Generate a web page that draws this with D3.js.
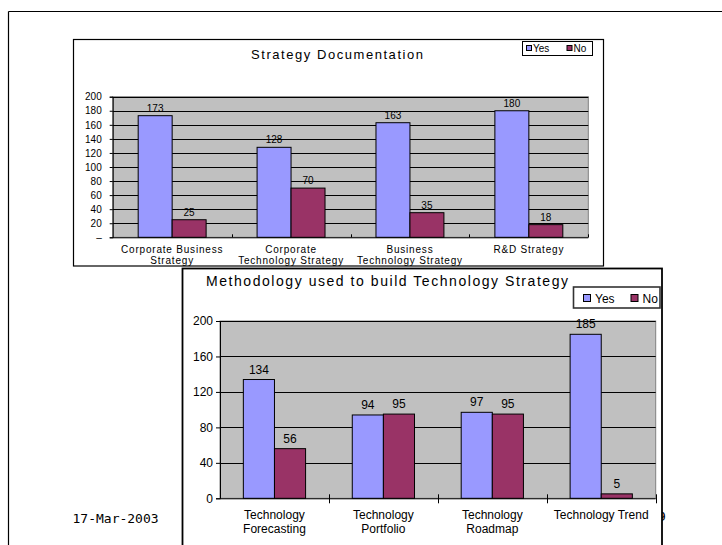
<!DOCTYPE html>
<html>
<head>
<meta charset="utf-8">
<script src="https://cdn.jsdelivr.net/npm/d3@7"></script>
<style>
  html, body { margin: 0; padding: 0; background: #fff; }
  svg { display: block; }
  text { font-family: "Liberation Sans", Arial, sans-serif; fill: #000; }
</style>
</head>
<body>
<svg id="slide" width="722" height="545"></svg>
<script>
// ---- data ----
const seriesNames = ["Yes", "No"];
const seriesColors = ["#9999FF", "#993366"];

const docCategories = ["Corporate Business\nStrategy", "Corporate\nTechnology Strategy", "Business\nTechnology Strategy", "R&D Strategy"];
const docYes = [173, 128, 163, 180];
const docNo = [25, 70, 35, 18];
const docTicks = [0, 20, 40, 60, 80, 100, 120, 140, 160, 180, 200];

const methCategories = ["Technology\nForecasting", "Technology\nPortfolio", "Technology\nRoadmap", "Technology Trend"];
const methYes = [134, 94, 97, 185];
const methNo = [56, 95, 95, 5];
const methTicks = [0, 40, 80, 120, 160, 200];

const footerDate = "17-Mar-2003";
const pageNumber = "9";

const svg = d3.select("#slide");

// slide frame
svg.append("line").attr("x1", 8.5).attr("y1", 11.5).attr("x2", 722).attr("y2", 11.5)
  .attr("stroke", "#000").attr("stroke-width", 1.2);
svg.append("line").attr("x1", 8.5).attr("y1", 11.5).attr("x2", 8.5).attr("y2", 545)
  .attr("stroke", "#000").attr("stroke-width", 1.2);

// footer
svg.append("text").attr("x", 72.5).attr("y", 522.5)
  .style("font-family", "'DejaVu Sans Mono', monospace").style("font-size", "13px")
  .text(footerDate);
svg.append("text").attr("x", 658).attr("y", 521)
  .style("font-family", "'DejaVu Sans Mono', monospace").style("font-size", "13px")
  .text(pageNumber);

function groupedBars(g, opt) {
  const rows = opt.categories.map((c, i) => ({ cat: c, values: [opt.yes[i], opt.no[i]] }));
  const x0 = d3.scaleBand().domain(opt.categories).range([opt.left, opt.right]).paddingInner(0).paddingOuter(0);
  const x1 = d3.scaleBand().domain(seriesNames).range([0, x0.bandwidth()]).paddingInner(0).paddingOuter(0.75);
  const y = d3.scaleLinear().domain([0, 200]).range([opt.bottom, opt.top]);

  // plot area
  g.append("rect").attr("x", opt.left).attr("y", opt.top)
    .attr("width", opt.right - opt.left).attr("height", opt.bottom - opt.top)
    .attr("fill", "#C0C0C0").attr("stroke", "#808080").attr("stroke-width", 1);

  // gridlines
  g.append("g").selectAll("line").data(opt.ticks.filter(t => t > 0)).join("line")
    .attr("x1", opt.left).attr("x2", opt.right)
    .attr("y1", d => Math.round(y(d)) + 0.5).attr("y2", d => Math.round(y(d)) + 0.5)
    .attr("stroke", "#000").attr("stroke-width", 1);

  // y axis
  const yAxis = d3.axisLeft(y).tickValues(opt.ticks).tickSize(opt.yTick).tickPadding(opt.yPad)
    .tickFormat(opt.yFormat);
  const ya = g.append("g").attr("transform", `translate(${opt.left},0)`).call(yAxis);
  ya.select(".domain").attr("stroke", "#000");
  ya.selectAll("line").attr("stroke", "#000");
  ya.selectAll("text").style("font-family", "'Liberation Sans', Arial, sans-serif")
    .style("font-size", opt.tickFont).attr("fill", "#000");

  // bars
  const grp = g.append("g").selectAll("g").data(rows).join("g")
    .attr("transform", d => `translate(${x0(d.cat)},0)`);
  grp.selectAll("rect").data(d => d.values.map((v, i) => ({ s: seriesNames[i], v, i }))).join("rect")
    .attr("x", d => x1(d.s)).attr("width", x1.bandwidth())
    .attr("y", d => y(d.v)).attr("height", d => y(0) - y(d.v))
    .attr("fill", d => seriesColors[d.i]).attr("stroke", "#000").attr("stroke-width", 1);
  grp.selectAll("text.val").data(d => d.values.map((v, i) => ({ s: seriesNames[i], v, i }))).join("text")
    .attr("class", "val")
    .attr("x", d => x1(d.s) + x1.bandwidth() / 2).attr("y", d => y(d.v) - opt.valGap)
    .attr("text-anchor", "middle").style("font-size", opt.valFont)
    .text(d => d.v);

  // x axis line and category separators
  g.append("line").attr("x1", opt.left).attr("x2", opt.right)
    .attr("y1", opt.bottom + 0.5).attr("y2", opt.bottom + 0.5).attr("stroke", "#000");
  const seps = opt.categories.map(c => x0(c) + x0.bandwidth());
  g.append("g").selectAll("line").data(seps).join("line")
    .attr("x1", d => Math.round(d) + 0.5).attr("x2", d => Math.round(d) + 0.5)
    .attr("y1", opt.bottom + opt.sepTop).attr("y2", opt.bottom + opt.sepBottom)
    .attr("stroke", "#000");

  // category labels
  const cl = g.append("g").selectAll("text").data(opt.categories).join("text")
    .attr("x", d => x0(d) + x0.bandwidth() / 2).attr("y", opt.catY)
    .attr("text-anchor", "middle").style("font-size", opt.catFont)
    .style("letter-spacing", opt.catSpacing);
  cl.selectAll("tspan").data(d => d.split("\n")).join("tspan")
    .attr("x", function () { return d3.select(this.parentNode).attr("x"); })
    .attr("dy", (d, i) => i === 0 ? 0 : opt.catLine)
    .text(d => d);
}

// ---- chart 1: Strategy Documentation ----
const c1 = svg.append("g");
c1.append("rect").attr("x", 73.5).attr("y", 39.5).attr("width", 530).attr("height", 226.5)
  .attr("fill", "#fff").attr("stroke", "#000").attr("stroke-width", 1.2);
c1.append("text").attr("x", 337).attr("y", 58.5).attr("text-anchor", "middle")
  .style("font-size", "13px").attr("textLength", 172).attr("lengthAdjust", "spacing")
  .text("Strategy Documentation");
// legend
const l1 = c1.append("g");
l1.append("rect").attr("x", 522.5).attr("y", 41.5).attr("width", 70).attr("height", 14)
  .attr("fill", "#fff").attr("stroke", "#000");
const l1x = [526, 566.5];
seriesNames.forEach((s, i) => {
  l1.append("rect").attr("x", l1x[i] + 0.5).attr("y", 45.5).attr("width", 5).attr("height", 5)
    .attr("fill", seriesColors[i]).attr("stroke", "#000");
  l1.append("text").attr("x", l1x[i] + 7).attr("y", 52).style("font-size", "10px").text(s);
});
groupedBars(c1, {
  categories: docCategories, yes: docYes, no: docNo, ticks: docTicks,
  left: 112.7, right: 588.3, top: 96.7, bottom: 237.3,
  yTick: 3, yPad: 8, yFormat: d => d === 0 ? "\u2013" : d, tickFont: "10px",
  valFont: "10px", valGap: 4, sepTop: -3, sepBottom: 0,
  catY: 252.5, catLine: 11, catFont: "10px", catSpacing: "0.8px"
});

// ---- chart 2: Methodology used to build Technology Strategy ----
const c2 = svg.append("g");
c2.append("rect").attr("x", 182.5).attr("y", 268.5).attr("width", 479.5).attr("height", 290)
  .attr("fill", "#fff").attr("stroke", "#000").attr("stroke-width", 1.8);
c2.append("text").attr("x", 206).attr("y", 286)
  .style("font-size", "14px").attr("textLength", 362).attr("lengthAdjust", "spacing")
  .text("Methodology used to build Technology Strategy");
const l2 = c2.append("g");
l2.append("rect").attr("x", 573.5).attr("y", 287).attr("width", 86.5).attr("height", 21)
  .attr("fill", "#fff").attr("stroke", "#333").attr("stroke-width", 1.6);
const l2x = [583, 630.5];
seriesNames.forEach((s, i) => {
  l2.append("rect").attr("x", l2x[i] + 0.5).attr("y", 294.5).attr("width", 7).attr("height", 7)
    .attr("fill", seriesColors[i]).attr("stroke", "#000");
  l2.append("text").attr("x", l2x[i] + 12).attr("y", 302.5).style("font-size", "12px").text(s);
});
groupedBars(c2, {
  categories: methCategories, yes: methYes, no: methNo, ticks: methTicks,
  left: 220, right: 655.7, top: 321, bottom: 498.3,
  yTick: 4, yPad: 3, yFormat: d => d, tickFont: "12px",
  valFont: "12px", valGap: 6, sepTop: -4, sepBottom: 5,
  catY: 518.5, catLine: 14, catFont: "12px", catSpacing: "0px"
});
</script>
</body>
</html>
